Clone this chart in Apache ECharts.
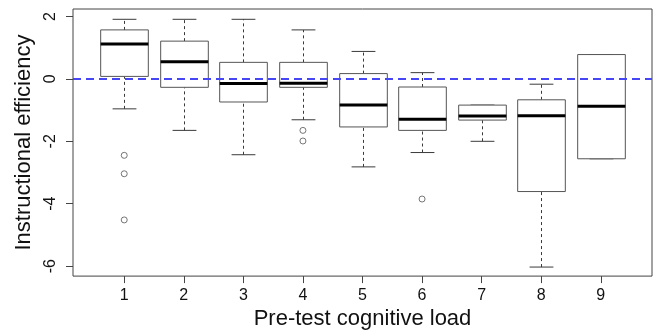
<!DOCTYPE html>
<html><head><meta charset="utf-8">
<script src="https://cdn.jsdelivr.net/npm/echarts@6/dist/echarts.min.js"></script>
<style>html,body{margin:0;padding:0;background:#fff}#c{width:654px;height:335px}</style>
</head><body><div id="c"></div>
<script>
var categories = [1, 2, 3, 4, 5, 6, 7, 8, 9];
var whiskerLow  = [-0.96, -1.65, -2.43, -1.31, -2.82, -2.36, -2.00, -6.03, -2.56];
var q1          = [ 0.08, -0.27, -0.74, -0.27, -1.54, -1.65, -1.32, -3.61, -2.56];
var medians     = [ 1.12,  0.55, -0.15, -0.14, -0.84, -1.29, -1.19, -1.18, -0.88];
var q3          = [ 1.57,  1.21,  0.53,  0.53,  0.17, -0.26, -0.84, -0.67,  0.78];
var whiskerHigh = [ 1.91,  1.91,  1.91,  1.57,  0.88,  0.20, -0.84, -0.17,  0.78];
var outlierX = [1, 1, 1, 4, 4, 6];
var outlierY = [-2.45, -3.04, -4.52, -1.65, -1.99, -3.85];
var xTicks = [1, 2, 3, 4, 5, 6, 7, 8, 9];
var yTicks = [-6, -4, -2, 0, 2];
var referenceLine = 0;

var boxData = categories.map(function (c, i) {
  return [c, whiskerLow[i], q1[i], medians[i], q3[i], whiskerHigh[i]];
});
var outlierData = outlierX.map(function (x, i) { return [x, outlierY[i]]; });

var FONT = 'Liberation Sans, Arial, Helvetica, sans-serif';
var EDGE = '#3a3a3a';

function renderBox(params, api) {
  var x = api.value(0);
  var pLow = api.coord([x, api.value(1)]);
  var pQ1 = api.coord([x, api.value(2)]);
  var pMed = api.coord([x, api.value(3)]);
  var pQ3 = api.coord([x, api.value(4)]);
  var pHigh = api.coord([x, api.value(5)]);
  var bw = api.size([0.8, 0])[0];
  var cw = api.size([0.4, 0])[0];
  var cx = Math.round(pMed[0]) + 0.5;
  var dashStyle = { stroke: EDGE, lineWidth: 1, lineDash: [3, 3], fill: null };
  var solid = { stroke: EDGE, lineWidth: 1, fill: null };
  var children = [];
  if (Math.abs(pLow[1] - pQ1[1]) > 1) {
    children.push({ type: 'line', shape: { x1: cx, y1: pLow[1], x2: cx, y2: pQ1[1] }, style: dashStyle });
  }
  if (Math.abs(pHigh[1] - pQ3[1]) > 1) {
    children.push({ type: 'line', shape: { x1: cx, y1: pQ3[1], x2: cx, y2: pHigh[1] }, style: dashStyle });
  }
  children.push(
    { type: 'line', shape: { x1: cx - cw / 2, y1: pLow[1], x2: cx + cw / 2, y2: pLow[1] }, style: solid },
    { type: 'line', shape: { x1: cx - cw / 2, y1: pHigh[1], x2: cx + cw / 2, y2: pHigh[1] }, style: solid },
    { type: 'rect', shape: { x: cx - bw / 2, y: pQ3[1], width: bw, height: pQ1[1] - pQ3[1] },
      style: { stroke: '#555', lineWidth: 1, fill: '#fff' } },
    { type: 'line', shape: { x1: cx - bw / 2, y1: pMed[1], x2: cx + bw / 2, y2: pMed[1] },
      style: { stroke: '#000', lineWidth: 3 } }
  );
  return { type: 'group', children: children };
}

var chart = echarts.init(document.getElementById('c'), null, { renderer: 'canvas' });
chart.setOption({
  animation: false,
  backgroundColor: '#fff',
  grid: { left: 73, right: 2, top: 9, bottom: 57, show: true, borderColor: '#444', borderWidth: 1, backgroundColor: 'transparent' },
  xAxis: {
    type: 'value', min: 0.14, max: 9.86,
    splitLine: { show: false },
    axisLine: { show: false, onZero: false },
    axisTick: { show: true, customValues: xTicks, length: 7, lineStyle: { color: '#444' } },
    axisLabel: { customValues: xTicks, fontSize: 16, margin: 11, color: '#111', fontFamily: FONT },
    name: 'Pre-test cognitive load', nameLocation: 'middle', nameGap: 31,
    nameTextStyle: { fontSize: 22, color: '#111', fontFamily: FONT }
  },
  yAxis: {
    type: 'value', min: -6.32, max: 2.24,
    splitLine: { show: false },
    axisLine: { show: false, onZero: false },
    axisTick: { show: true, customValues: yTicks, length: 7, lineStyle: { color: '#444' } },
    axisLabel: { customValues: yTicks, fontSize: 16, margin: 14, rotate: 90, color: '#111', fontFamily: FONT },
    name: 'Instructional efficiency', nameLocation: 'middle', nameGap: 36, nameRotate: 90,
    nameTextStyle: { fontSize: 22, color: '#111', fontFamily: FONT }
  },
  series: [
    {
      type: 'custom', renderItem: renderBox, data: boxData, z: 2,
      encode: { x: 0, y: [1, 2, 3, 4, 5] }, silent: true
    },
    {
      type: 'scatter', data: outlierData, symbol: 'circle', symbolSize: 6, z: 3,
      itemStyle: { color: '#fff', borderColor: '#555', borderWidth: 1 }, silent: true,
      markLine: {
        silent: true, symbol: ['none', 'none'], label: { show: false }, z: 10,
        lineStyle: { color: '#4646f5', width: 2, type: [8, 5] },
        data: [{ yAxis: referenceLine }]
      }
    }
  ]
});
</script></body></html>
